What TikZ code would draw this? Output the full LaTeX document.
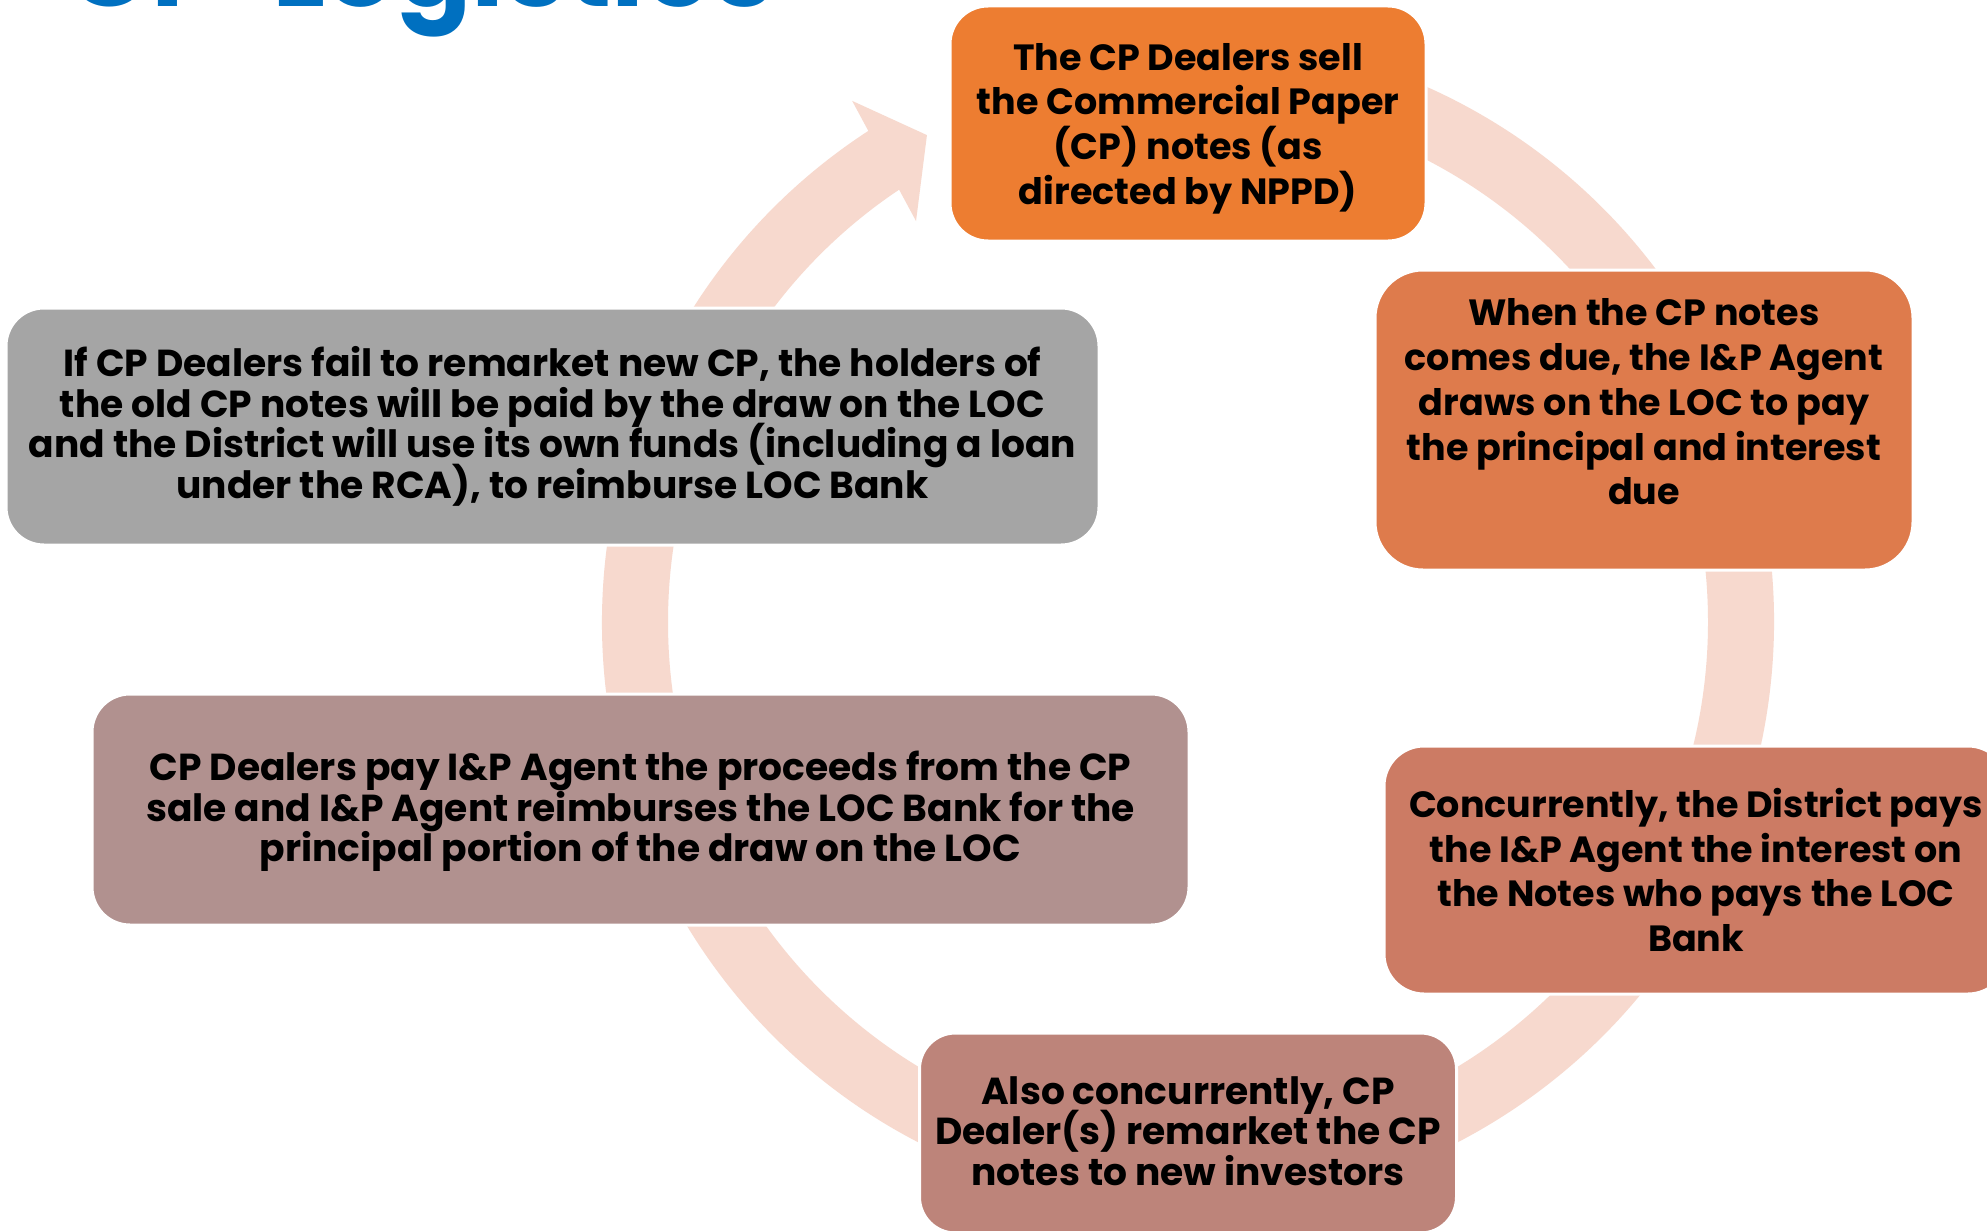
\documentclass[tikz,border=0pt]{standalone}
\usepackage{fontspec}
\usepackage{graphicx}
\setmainfont{Poppins}
\definecolor{ringc}{HTML}{F7D9CE}
\definecolor{cA}{HTML}{ED7D31}
\definecolor{cB}{HTML}{DE7B4C}
\definecolor{cC}{HTML}{CC7B64}
\definecolor{cD}{HTML}{BD847A}
\definecolor{cE}{HTML}{B1918F}
\definecolor{cF}{HTML}{A5A5A5}
\definecolor{titleblue}{HTML}{0070C0}
\newcommand\tightls{\lineskiplimit=-100pt\relax}
\tikzset{
  box/.style={draw=white, line width=3pt, rounded corners=38pt, inner sep=0pt},
  txtL/.style={align=center, font={\bfseries\fontsize{36.5}{44.7}\selectfont\tightls}, inner sep=0pt},
  txtS/.style={align=center, font={\bfseries\fontsize{37.6}{40.5}\selectfont\tightls}, inner sep=0pt},
}
\begin{document}
\begin{tikzpicture}[x=1pt,y=-1pt]
\useasboundingbox (0,0) rectangle (1987,1231);
\fill[white] (0,0) rectangle (1987,1231);
% title (cut by the top edge)
\node[anchor=base west, inner sep=0pt, text=titleblue, font=\bfseries] (title) at (66,7) {\resizebox{708pt}{!}{CP\hspace{0.25em} Logistics}};
% cycle ring
\coordinate (O) at (1188,622);
\fill[ringc, shift={(1188,622)}] (-123.06:586) arc[start angle=-123.06, end angle=-450, radius=586]
  -- (-450:520) arc[start angle=-450, end angle=-123.75, radius=520]
  -- (-124.15:484.5) -- (-118.2:552.5) -- (-122.8:620) -- cycle;
% boxes
\node[box, fill=cA, minimum width=476, minimum height=235] (b1) at (1188,123.5) {};
\node[txtL] (t1) at ([yshift=-5pt]b1.center) {The CP Dealers sell\\the Commercial Paper\\(CP) notes (as\\directed by NPPD)};
\node[box, fill=cB, minimum width=538, minimum height=300, rounded corners=48pt] (b2) at (1644,420) {};
\node[txtL] (t2) at ([yshift=18pt]b2.center) {When the CP notes\\comes due, the I\&P Agent\\draws on the LOC to pay\\the principal and interest\\due};
\node[box, fill=cC, minimum width=624, minimum height=248, rounded corners=40pt] (b3) at (1696,870) {};
\node[txtL] (t3) at (b3.center) {Concurrently, the District pays\\the I\&P Agent the interest on\\the Notes who pays the LOC\\Bank};
\node[box, fill=cD, minimum width=537, minimum height=200, rounded corners=36pt] (b4) at (1188,1133) {};
\node[txtS] (t4) at ([yshift=2pt]b4.center) {Also concurrently, CP\\Dealer(s) remarket the CP\\notes to new investors};
\node[box, fill=cE, minimum width=1097, minimum height=231] (b5) at (640.5,809.5) {};
\node[txtS] (t5) at ([yshift=-2pt]b5.center) {CP Dealers pay I\&P Agent the proceeds from the CP\\sale and I\&P Agent reimburses the LOC Bank for the\\principal portion of the draw on the LOC};
\node[box, fill=cF, minimum width=1093, minimum height=237] (b6) at (552.5,426.5) {};
\node[txtS] (t6) at (b6.center) {If CP Dealers fail to remarket new CP, the holders of\\the old CP notes will be paid by the draw on the LOC\\and the District will use its own funds (including a loan\\under the RCA), to reimburse LOC Bank};
\end{tikzpicture}
\end{document}
